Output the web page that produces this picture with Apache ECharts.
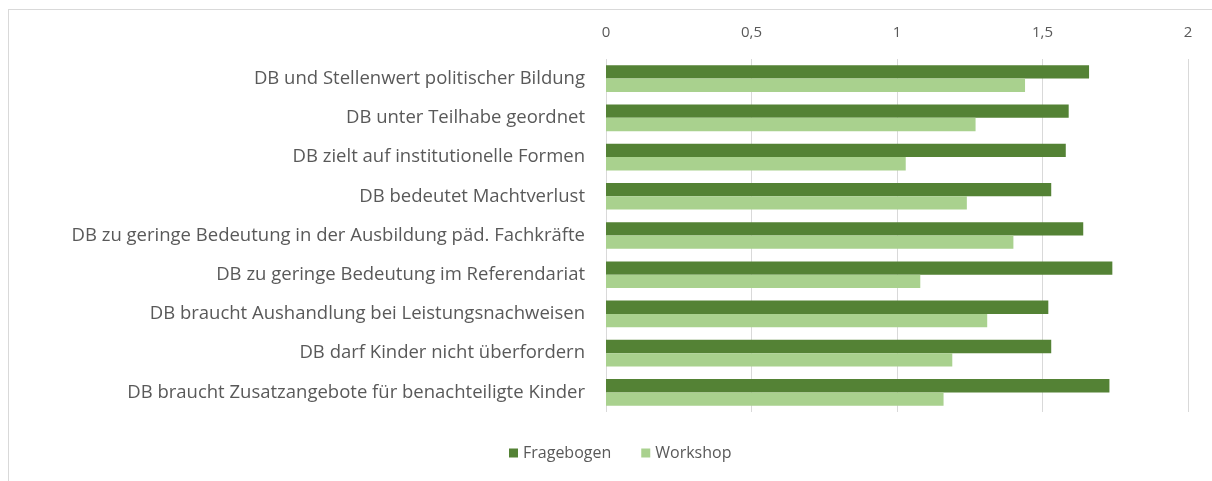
<!DOCTYPE html>
<html>
<head>
<meta charset="utf-8">
<script src="https://cdn.jsdelivr.net/npm/echarts@6/dist/echarts.min.js"></script>
<style>
  html, body { margin: 0; padding: 0; background: #fff; }
  #frame { position: absolute; left: 8px; top: 9px; width: 1220px; height: 490px; border: 1px solid #d9d9d9; box-sizing: border-box; }
  #chart { position: absolute; left: 0; top: 0; width: 1212px; height: 481px; }
</style>
</head>
<body>
<div id="frame"></div>
<div id="chart"></div>
<script>
const categories = [
  'DB und Stellenwert politischer Bildung',
  'DB unter Teilhabe geordnet',
  'DB zielt auf institutionelle Formen',
  'DB bedeutet Machtverlust',
  'DB zu geringe Bedeutung in der Ausbildung päd. Fachkräfte',
  'DB zu geringe Bedeutung im Referendariat',
  'DB braucht Aushandlung bei Leistungsnachweisen',
  'DB darf Kinder nicht überfordern',
  'DB braucht Zusatzangebote für benachteiligte Kinder'
];
const fragebogen = [1.66, 1.59, 1.58, 1.53, 1.64, 1.74, 1.52, 1.53, 1.73];
const workshop   = [1.44, 1.27, 1.03, 1.24, 1.40, 1.08, 1.31, 1.19, 1.16];
const seriesNames = ['Fragebogen', 'Workshop'];

const chart = echarts.init(document.getElementById('chart'));
const font = '"Open Sans", "Noto Sans", sans-serif';
chart.setOption({
  animation: false,
  textStyle: { fontFamily: font },
  legend: {
    bottom: 15,
    left: 504,
    itemWidth: 9, itemHeight: 9, itemGap: 30,
    icon: 'rect',
    textStyle: { color: '#595959', fontSize: 16, fontFamily: font },
    data: seriesNames
  },
  grid: { left: 606, right: 24, top: 59, height: 353, containLabel: false },
  xAxis: {
    type: 'value', position: 'top', min: 0, max: 2, interval: 0.5,
    axisLine: { show: false }, axisTick: { show: false },
    axisLabel: { color: '#595959', fontSize: 15, margin: 19, fontFamily: font,
      formatter: v => String(v).replace('.', ',') },
    splitLine: { lineStyle: { color: '#d9d9d9', width: 1 } }
  },
  yAxis: {
    type: 'category', inverse: true, data: categories,
    axisLine: { show: false }, axisTick: { show: false },
    axisLabel: { color: '#595959', fontSize: 18.5, margin: 21, fontFamily: font }
  },
  series: [
    { name: seriesNames[0], type: 'bar', data: fragebogen, barGap: '0%', barCategoryGap: '32%',
      itemStyle: { color: '#548235' } },
    { name: seriesNames[1], type: 'bar', data: workshop, barGap: '0%', barCategoryGap: '32%',
      itemStyle: { color: '#a9d18e' } }
  ]
});
</script>
</body>
</html>
